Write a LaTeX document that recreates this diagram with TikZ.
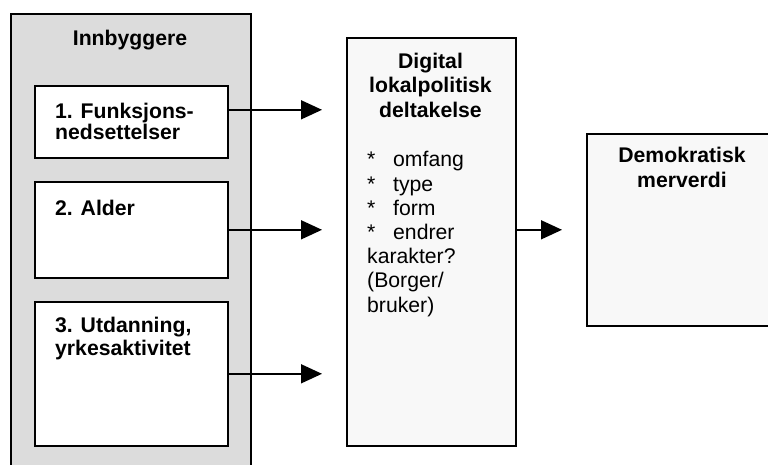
\documentclass[tikz,border=0pt]{standalone}
\usepackage{fontspec}
\setmainfont{Liberation Sans}
\usetikzlibrary{arrows.meta,calc}
\definecolor{grayfill}{RGB}{220,220,220}
\definecolor{lightfill}{RGB}{248,248,248}
\begin{document}
\begin{tikzpicture}[x=1pt,y=-1pt,
  box/.style={draw, line width=1.6pt, inner sep=0pt, anchor=north west},
  arr/.style={line width=1.6pt, -{Triangle[length=21pt,width=19pt]}},
  head/.style={font=\fontsize{21.2}{24.5}\selectfont\bfseries, inner sep=0pt, align=center},
  headl/.style={font=\fontsize{21.2}{#1}\selectfont\bfseries, inner sep=0pt, align=left, anchor=base west},
  body/.style={font=\fontsize{21.2}{24.2}\selectfont, inner sep=0pt, align=left, anchor=base west}
]
\useasboundingbox (0,0) rectangle (768,464);
\clip (0,0) rectangle (768,464);
% boxes
\node[box, fill=grayfill, minimum width=240pt, minimum height=460pt] (outer) at (10,13) {};
\node[box, fill=white, minimum width=193pt, minimum height=72pt] (b1) at (34,85) {};
\node[box, fill=white, minimum width=193pt, minimum height=96pt] (b2) at (34,181) {};
\node[box, fill=white, minimum width=193pt, minimum height=144pt] (b3) at (34,301) {};
\node[box, fill=lightfill, minimum width=169pt, minimum height=408pt] (mid) at (346,37) {};
\node[box, fill=lightfill, minimum width=192pt, minimum height=192pt] (right) at (586,133) {};
% texts (base anchor = baseline of the last line)
\node[head, anchor=base] (t0) at (130,45) {Innbyggere};
\node[headl=21] (t1) at (55,139) {1. Funksjons-\\nedsettelser};
\node[headl=23] (t2) at (55,215) {2. Alder};
\node[headl=23] (t3) at (55,355) {3. Utdanning,\\yrkesaktivitet};
\node[head, anchor=base] (tm) at (430.5,117) {Digital\\lokalpolitisk\\deltakelse};
\node[body] (tl) at (367,312) {\makebox[26pt][l]{*}omfang\\\makebox[26pt][l]{*}type\\\makebox[26pt][l]{*}form\\\makebox[26pt][l]{*}endrer\\karakter?\\(Borger/\\bruker)};
\node[head, anchor=base] (tr) at (682,187) {Demokratisk\\merverdi};
% arrows
\draw[arr] ($(b1.east)+(0,-12)$) -- ($(mid.west |- b1.east)+(-24,-12)$);
\draw[arr] (b2.east) -- ($(mid.west |- b2.east)+(-24,0)$);
\draw[arr] (b3.east) -- ($(mid.west |- b3.east)+(-24,0)$);
\draw[arr] ($(mid.east)+(0,-12)$) -- ($(right.west |- mid.east)+(-24,-12)$);
\end{tikzpicture}
\end{document}
